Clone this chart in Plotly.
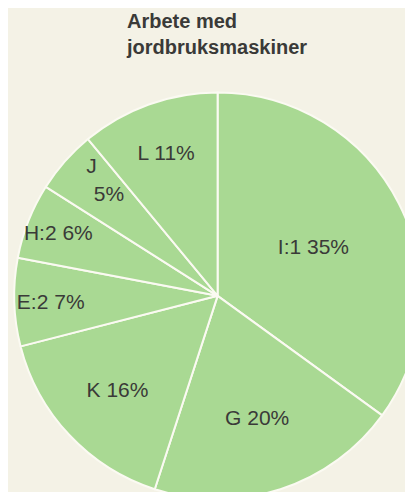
import plotly.graph_objects as go

categories = ["I:1", "G", "K", "E:2", "H:2", "J", "L"]
shares = [35, 20, 16, 7, 6, 5, 11]
nb = "\u00a0"
label_texts = ["I:1 35%", "G 20%", "K 16%", "E:2 7%", "H:2 6%",
               nb * 2 + "J<br>" + nb * 8 + "5%", "L 11%"]

title_text = "Arbete med<br>jordbruksmaskiner"

bg = "#f4f2e6"
green = "#a9d993"

fig = go.Figure(go.Pie(
    labels=categories,
    values=shares,
    text=label_texts,
    texttemplate="%{text}",
    textinfo="text",
    textposition="inside",
    insidetextorientation="horizontal",
    sort=False,
    direction="clockwise",
    rotation=0,
    marker=dict(colors=[green] * len(categories), line=dict(color="#fbfaf2", width=2)),
    textfont=dict(family="Liberation Sans, Arial, sans-serif", size=21, color="#3a3a38"),
    domain=dict(x=[0.015, 1.0], y=[0.0, 0.83]),
    showlegend=False,
    hoverinfo="label+value",
))

fig.update_layout(
    width=413,
    height=492,
    margin=dict(l=0, r=0, t=0, b=0),
    paper_bgcolor=bg,
    plot_bgcolor=bg,
    uniformtext=dict(minsize=21, mode="show"),
    annotations=[dict(
        text=title_text,
        x=116 / 413,
        xref="paper",
        xanchor="left",
        y=1.0,
        yref="paper",
        yanchor="top",
        align="left",
        showarrow=False,
        font=dict(family="Liberation Sans, Arial, sans-serif", size=20, color="#3a3a38", weight="bold"),
    )],
)

fig.write_html("out.html")
